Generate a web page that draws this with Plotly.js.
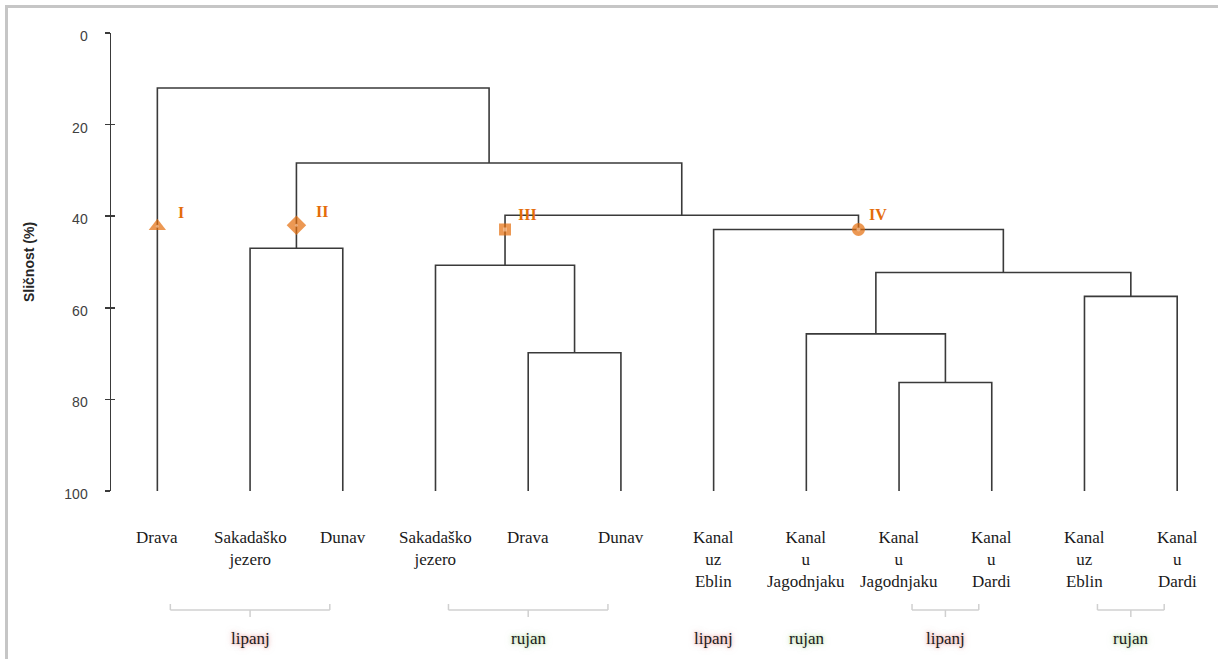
<!DOCTYPE html>
<html>
<head>
<meta charset="utf-8">
<script src="https://cdn.plot.ly/plotly-3.0.1.min.js"></script>
<style>
  html, body { margin: 0; padding: 0; background: #ffffff; }
  #wrap { position: relative; width: 1218px; height: 659px; overflow: hidden; }
  #chart { position: absolute; left: 0; top: 0; width: 1218px; height: 659px; }
  #frame { position: absolute; left: 5px; top: 5px; width: 1220px; height: 660px;
           border-left: 3px solid #c6c6c6; border-top: 3px solid #c6c6c6; pointer-events: none; }
</style>
</head>
<body>
<div id="wrap">
  <div id="chart"></div>
  <div id="frame"></div>
</div>
<script>
// ---------------- DATA ----------------
// leaf labels (left to right)
const leafLabels = [
  "Drava", "Sakadaško<br>jezero", "Dunav",
  "Sakadaško<br>jezero", "Drava", "Dunav",
  "Kanal<br>uz<br>Eblin", "Kanal<br>u<br>Jagodnjaku",
  "Kanal<br>u<br>Jagodnjaku", "Kanal<br>u<br>Dardi",
  "Kanal<br>uz<br>Eblin", "Kanal<br>u<br>Dardi"
];
// merges: node ids 0..11 are leaves, merge k creates node 12+k
const mergeLeft  = [8, 7, 10, 13, 6, 4, 3, 18, 1, 20, 0];
const mergeRight = [9, 12, 11, 14, 15, 5, 17, 16, 2, 19, 21];
const mergeLevel = [76.3, 65.7, 57.5, 52.3, 42.9, 69.8, 50.7, 39.8, 47.0, 28.4, 12.0];

// cluster markers
const clusterNames = ["I", "II", "III", "IV"];
const clusterNode  = [0, 20, 18, 16];
const clusterLevel = [42.2, 42.0, 42.9, 42.9];

// season groups below the leaves (1-based leaf positions)
const groupFirst = [1, 4, 7, 8, 9, 11];
const groupLast  = [3, 6, 7, 8, 10, 12];
const groupLabel = ["lipanj", "rujan", "lipanj", "rujan", "lipanj", "rujan"];

// axis ticks
const yTickVals = [0, 20, 40, 60, 80, 100];
const yTickText = ["0", "20", "40", "60", "80", "100"];
const yTitle = "Sličnost (%)";

// ---------------- BUILD ----------------
const nLeaves = leafLabels.length;
const nodeX = [], nodeY = [];
for (let i = 0; i < nLeaves; i++) { nodeX.push(i + 1); nodeY.push(100); }
const lx = [], ly = [];
for (let k = 0; k < mergeLeft.length; k++) {
  const a = mergeLeft[k], b = mergeRight[k], h = mergeLevel[k];
  lx.push(nodeX[a], nodeX[a], nodeX[b], nodeX[b], null);
  ly.push(nodeY[a], h, h, nodeY[b], null);
  nodeX.push((nodeX[a] + nodeX[b]) / 2);
  nodeY.push(h);
}

const orange = "#E46C0A";
const serif = "Liberation Serif, Times New Roman, serif";
const markerSymbols = ["triangle-up", "diamond", "square", "circle"];
const markerSizes = [15, 15, 12, 13];
const dotSymbols = ["circle", "circle", "square", "circle"];
const dotSizes = [3, 3, 4, 4];
const labelShift = [[19, 14], [18, 14], [11, 15], [9, 15]];

const cx = clusterNode.map(n => nodeX[n]);

const traces = [
  { type: "scatter", mode: "lines", x: lx, y: ly, hoverinfo: "skip",
    line: { color: "#3a3a3a", width: 1.6 }, showlegend: false },
  { type: "scatter", mode: "markers", x: cx, y: clusterLevel, hoverinfo: "skip",
    marker: { symbol: markerSymbols, size: markerSizes, color: orange, line: { width: 0 } },
    showlegend: false, cliponaxis: false },
  { type: "scatter", mode: "markers", x: cx, y: clusterLevel, hoverinfo: "skip", yaxis: "y2",
    marker: { symbol: dotSymbols, size: dotSizes, color: "#f6c39a", line: { width: 0 } },
    showlegend: false, cliponaxis: false }
];

// pixel helpers for things drawn below the plot area
const plotTop = 33, plotBottom = 491, plotH = plotBottom - plotTop;
const py = px => (plotBottom - px) / plotH;

const annotations = [];
// cluster labels
clusterNames.forEach((t, i) => {
  annotations.push({ x: cx[i], y: clusterLevel[i], xref: "x", yref: "y", text: t, showarrow: false,
    xanchor: "left", yanchor: "middle", xshift: labelShift[i][0], yshift: labelShift[i][1],
    font: { family: serif, size: 16, color: orange, weight: "bold" } });
});
// leaf labels
leafLabels.forEach((t, i) => {
  annotations.push({ x: i + 1, y: py(526), xref: "x", yref: "paper", text: t, showarrow: false,
    xanchor: "center", yanchor: "top", align: "center",
    font: { family: serif, size: 17, color: "#1a1a1a" } });
});
// group brackets + labels
const shapes = [];
const brY = py(610), brUp = py(604), brDown = py(617);
groupLabel.forEach((g, i) => {
  const a = groupFirst[i], b = groupLast[i];
  const mid = (a + b) / 2;
  if (b > a) {
    const x0 = a + 0.14, x1 = b - 0.14;
    const st = { type: "line", xref: "x", yref: "paper", line: { color: "#d0d0d0", width: 1.5 } };
    shapes.push(Object.assign({}, st, { x0: x0, x1: x1, y0: brY, y1: brY }));
    shapes.push(Object.assign({}, st, { x0: x0, x1: x0, y0: brY, y1: brUp }));
    shapes.push(Object.assign({}, st, { x0: x1, x1: x1, y0: brY, y1: brUp }));
    shapes.push(Object.assign({}, st, { x0: mid, x1: mid, y0: brY, y1: brDown }));
  }
  annotations.push({ x: mid, y: py(638), xref: "x", yref: "paper", showarrow: false,
    text: g, xanchor: "center", yanchor: "middle",
    font: { family: serif, size: 17, color: "#1a1a1a" } });
});

const axisCommon = {
  range: [100, 0], showgrid: false, zeroline: false, showline: true,
  linecolor: "#3a3a3a", linewidth: 1.5, tickcolor: "#3a3a3a", tickwidth: 1.5,
  tickvals: yTickVals, ticktext: yTickText
};

const layout = {
  width: 1218, height: 659,
  margin: { l: 111, r: 13, t: plotTop, b: 659 - plotBottom, pad: 0 },
  paper_bgcolor: "rgba(0,0,0,0)", plot_bgcolor: "rgba(0,0,0,0)",
  showlegend: false,
  xaxis: { range: [0.5, 12.3], visible: false, fixedrange: true },
  yaxis: Object.assign({}, axisCommon, {
    ticks: "outside", ticklen: 5, ticklabelstandoff: 14, ticklabelshift: -3,
    tickfont: { family: "Liberation Sans, Arial, sans-serif", size: 14, color: "#404040" },
    title: { text: yTitle, standoff: 26,
      font: { family: "Liberation Sans, Arial, sans-serif", size: 14, color: "#262626", weight: "bold" } }
  }),
  yaxis2: Object.assign({}, axisCommon, {
    overlaying: "y", anchor: "x", side: "left", ticks: "inside", ticklen: 4,
    showticklabels: false, showline: false
  }),
  shapes: shapes,
  annotations: annotations
};

const glowColors = {
  lipanj: "rgba(225,120,120,0.55)",
  rujan: "rgba(150,205,120,0.55)"
};
Plotly.newPlot("chart", traces, layout, { displayModeBar: false, staticPlot: true }).then(gd => {
  gd.querySelectorAll("text.annotation-text").forEach(el => {
    const c = glowColors[el.textContent.trim()];
    if (c) el.style.textShadow = "0 0 3px " + c + ", 0 0 6px " + c;
  });
});
</script>
</body>
</html>
